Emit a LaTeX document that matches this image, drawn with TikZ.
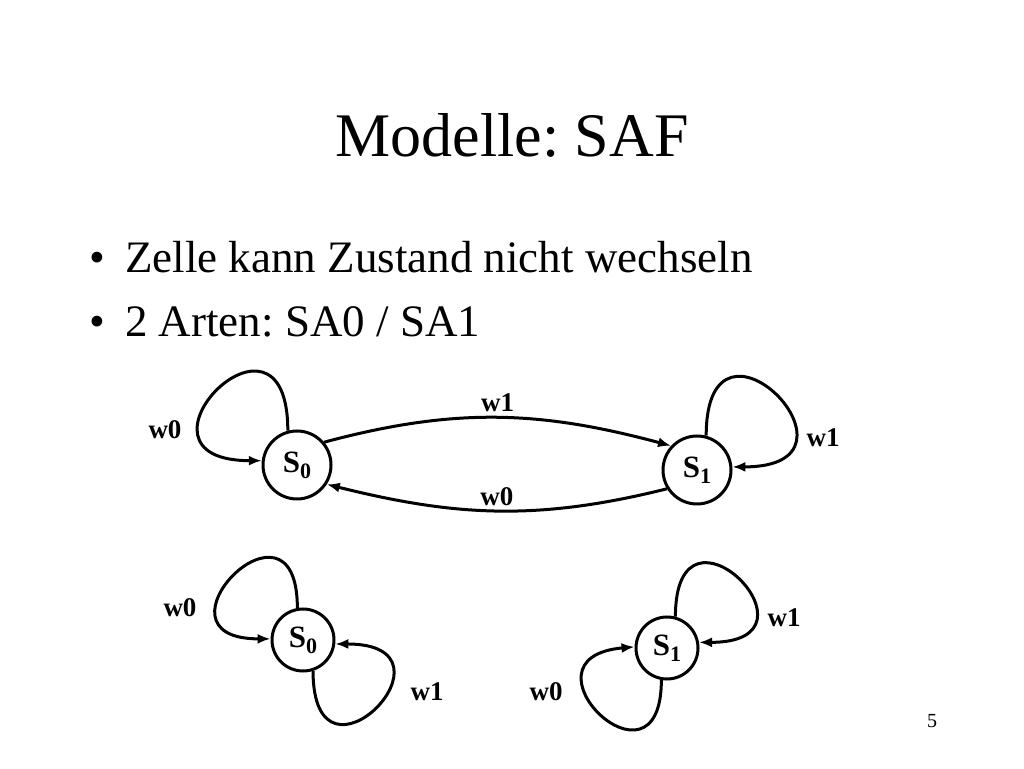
\documentclass[tikz,border=0pt]{standalone}
\usepackage{fontspec}
\setmainfont{Liberation Serif}
\frenchspacing
\usetikzlibrary{arrows.meta}
\newcommand{\idx}[1]{\raisebox{-6pt}{\fontsize{22}{22}\selectfont #1}}
\tikzset{
  state/.style={circle, draw, line width=3pt, minimum size=68pt, inner sep=0pt,
    font=\fontsize{31}{31}\selectfont\bfseries},
  small state/.style={state, minimum size=62pt},
  trans/.style={line width=3pt, -{Latex[length=13pt,width=10pt]}},
  lbl/.style={font=\fontsize{27}{27}\selectfont\bfseries}
}
\begin{document}
\begin{tikzpicture}[x=1pt,y=1pt]
 \useasboundingbox (0,0) rectangle (1024,768);
 % title and bullets
 \node[anchor=base] (title) at (512,611) {\fontsize{62}{62}\selectfont Modelle: SAF};
 \foreach \y/\t/\n in {495/{Zelle kann Zustand nicht wechseln}/b1, 431/{2 Arten: SA0 / SA1}/b2}
 {
   \node[anchor=base west, inner sep=0pt] (dot\n) at (89,\y) {\fontsize{45}{45}\selectfont •};
   \node[anchor=base west, inner sep=0pt] (\n) at (125,\y) {\fontsize{45}{45}\selectfont \t};
 }
 \node[anchor=base] (page) at (932,41) {\fontsize{20}{20}\selectfont 5};

 % upper automaton
 \node[state] (s0t) at (297,303) {S\idx{0}};
 \node[state] (s1t) at (697,298) {S\idx{1}};
 \draw[trans] (s0t.40) to[out=15,in=165] node[above=1pt,lbl] (w1e) {w1} (s1t.137);
 \draw[trans] (s1t.212) to[out=194,in=-14] node[above,lbl] (w0e) {w0} (s0t.-33);
 \draw[trans] (s0t.105) to[out=90,in=180,distance=150] (s0t.173);
 \draw[trans] (s1t.75) to[out=90,in=0,distance=150] (s1t.5);
 \node[lbl] (w0a) at (165,338) {w0};
 \node[lbl] (w1a) at (823,330) {w1};

 % SA0
 \node[small state] (s0b) at (303,128) {S\idx{0}};
 \draw[trans] (s0b.100) to[out=90,in=180,distance=130] (s0b.178);
 \draw[trans] (s0b.-72) to[out=-90,in=0,distance=135] (s0b.-7);
 \node[lbl] (w0b) at (180,160) {w0};
 \node[lbl] (w1b) at (427,76) {w1};

 % SA1
 \node[small state] (s1b) at (667,120) {S\idx{1}};
 \draw[trans] (s1b.75) to[out=90,in=0,distance=135] (s1b.10);
 \draw[trans] (s1b.-100) to[out=-90,in=185,distance=125] (s1b.178);
 \node[lbl] (w1c) at (784,150) {w1};
 \node[lbl] (w0c) at (546,76) {w0};
\end{tikzpicture}
\end{document}
